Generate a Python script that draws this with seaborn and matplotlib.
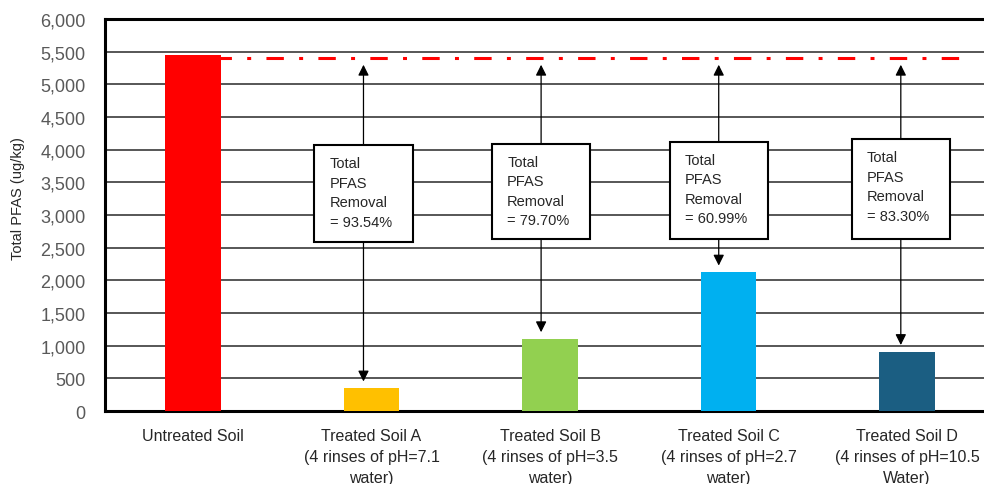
import matplotlib
matplotlib.use('Agg')
import pandas as pd
import seaborn as sns
import matplotlib.pyplot as plt
from matplotlib.patches import Rectangle
from matplotlib.ticker import MultipleLocator, FuncFormatter

# Data
categories = ['Untreated Soil',
              'Treated Soil A\n(4 rinses of pH=7.1\nwater)',
              'Treated Soil B\n(4 rinses of pH=3.5\nwater)',
              'Treated Soil C\n(4 rinses of pH=2.7\nwater)',
              'Treated Soil D\n(4 rinses of pH=10.5\nWater)']
total_pfas = [5450, 352, 1106, 2126, 910]
removal_pct = ['93.54%', '79.70%', '60.99%', '83.30%']
untreated_level = 5410
bar_colors = ['#FF0000', '#FFC000', '#92D050', '#00B0F0', '#1B5E82']

# annotation box layout (category units / data units)
box_offset = [-0.045, -0.05, -0.055, -0.035]
box_top = [4070, 4090, 4120, 4165]
box_bottom = [2590, 2630, 2630, 2630]
box_width = 0.55

sns.set_style('white')
plt.rcParams['font.family'] = ['Liberation Sans', 'DejaVu Sans']

df = pd.DataFrame({'category': categories, 'pfas': total_pfas})

fig = plt.figure(figsize=(9.84, 4.85), dpi=100)
ax = fig.add_axes([0.1067, 0.1505, 0.8933, 0.8082])

sns.barplot(data=df, x='category', y='pfas', hue='category', palette=bar_colors,
            width=0.31, legend=False, ax=ax, zorder=3, saturation=1, linewidth=0)

ax.set_xlim(-0.493, 4.431)
ax.set_ylim(0, 6000)
ax.yaxis.set_major_locator(MultipleLocator(500))
ax.yaxis.set_minor_locator(MultipleLocator(100))
ax.yaxis.set_major_formatter(FuncFormatter(lambda v, p: '{:,.0f}'.format(v)))
ax.grid(axis='y', which='major', color='#3a3a3a', lw=1.2, zorder=0)
ax.set_axisbelow(True)

for side in ['left', 'top', 'bottom']:
    ax.spines[side].set_linewidth(2.2)
    ax.spines[side].set_color('black')
ax.spines['right'].set_visible(False)

ax.tick_params(axis='y', which='both', direction='in', length=4, width=1.2,
               color='black', labelsize=13, labelcolor='#595959', pad=14)
ax.tick_params(axis='y', which='minor', length=3)
ax.tick_params(axis='x', length=0, labelsize=11.5, pad=12)
for lab in ax.get_xticklabels():
    lab.set_linespacing(1.5)

ax.set_xlabel('')
ax.set_ylabel('Total PFAS (ug/kg)', fontsize=10.5)
ax.yaxis.set_label_coords(-0.091, 0.545)

# dash-dot reference line at untreated level
ax.plot([0.12, 4.35], [untreated_level, untreated_level], color='#FF0000', lw=2.2,
        ls=(0, (5.7, 5, 1.3, 5)), zorder=4, solid_capstyle='butt', dash_capstyle='butt')

# removal boxes with arrows
for i, pct in enumerate(removal_pct):
    cx = i + 1 + box_offset[i]
    ax.add_patch(Rectangle((cx - box_width / 2, box_bottom[i]), box_width,
                           box_top[i] - box_bottom[i], facecolor='white',
                           edgecolor='black', lw=1.5, zorder=6))
    ax.text(cx - box_width / 2 + 0.085, box_top[i] - 170,
            'Total\nPFAS\nRemoval\n= ' + pct, ha='left', va='top',
            fontsize=10.5, linespacing=1.5, zorder=7)
    ax.annotate('', xy=(cx, untreated_level - 110), xytext=(cx, box_top[i]),
                arrowprops=dict(arrowstyle='-|>', color='black', lw=0.9,
                                mutation_scale=16, shrinkA=0, shrinkB=0), zorder=5)
    ax.annotate('', xy=(cx, total_pfas[i + 1] + 100), xytext=(cx, box_bottom[i]),
                arrowprops=dict(arrowstyle='-|>', color='black', lw=0.9,
                                mutation_scale=16, shrinkA=0, shrinkB=0), zorder=5)

fig.savefig('out.png', dpi=100)
